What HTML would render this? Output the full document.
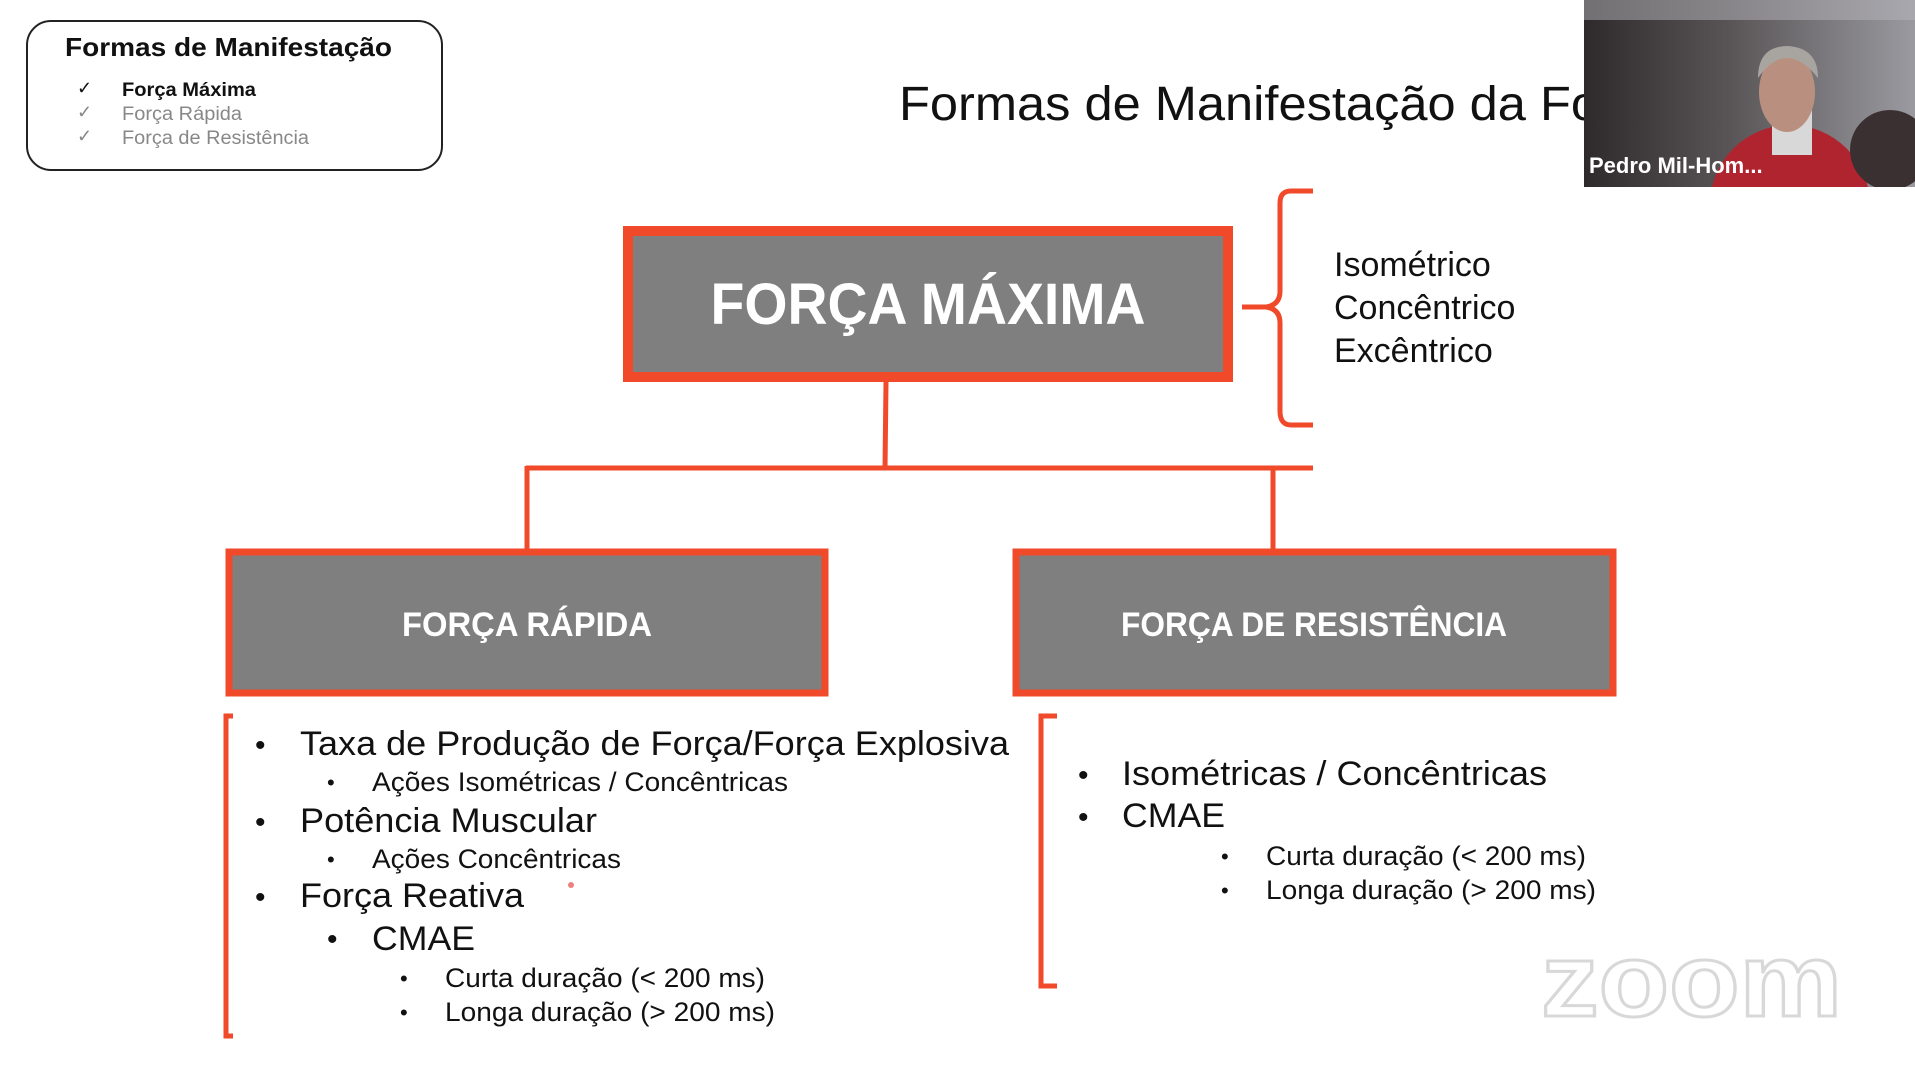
<!DOCTYPE html>
<html><head><meta charset="utf-8"><style>
html,body{margin:0;padding:0;background:#fff;width:1915px;height:1080px;overflow:hidden}
svg{display:block}
text{font-family:"Liberation Sans",sans-serif}
</style></head><body>
<svg width="1915" height="1080" viewBox="0 0 1915 1080" xmlns="http://www.w3.org/2000/svg">
<defs>
<linearGradient id="cam" x1="0" y1="0" x2="1" y2="0">
<stop offset="0" stop-color="#2e2a2c"/><stop offset="0.45" stop-color="#5a5658"/><stop offset="1" stop-color="#9a9aa0"/>
</linearGradient>
<clipPath id="cc"><rect x="1584" y="0" width="331" height="187"/></clipPath>
</defs>
<!-- legend -->
<rect x="27" y="21" width="415" height="149" rx="24" fill="#fff" stroke="#222" stroke-width="2"/>
<text x="65" y="56" font-size="26" font-weight="bold" fill="#111" textLength="327" lengthAdjust="spacingAndGlyphs">Formas de Manifestação</text>
<text x="77" y="94" font-size="18" fill="#111">✓</text>
<text x="122" y="96" font-size="19" font-weight="bold" fill="#111" textLength="134" lengthAdjust="spacingAndGlyphs">Força Máxima</text>
<text x="77" y="118" font-size="18" fill="#888">✓</text>
<text x="122" y="120" font-size="19" fill="#888" textLength="120" lengthAdjust="spacingAndGlyphs">Força Rápida</text>
<text x="77" y="142" font-size="18" fill="#888">✓</text>
<text x="122" y="144" font-size="19" fill="#888" textLength="187" lengthAdjust="spacingAndGlyphs">Força de Resistência</text>
<!-- title -->
<text x="899" y="120" font-size="48" fill="#111" textLength="700" lengthAdjust="spacingAndGlyphs">Formas de Manifestação da Fo</text>
<!-- webcam -->
<g clip-path="url(#cc)">
<rect x="1584" y="0" width="331" height="187" fill="url(#cam)"/>
<rect x="1584" y="0" width="331" height="20" fill="#b8b6bc" opacity="0.5"/>
<ellipse cx="1790" cy="205" rx="80" ry="80" fill="#b02430"/>
<ellipse cx="1890" cy="150" rx="40" ry="40" fill="#3a3032"/>
<rect x="1772" y="110" width="40" height="45" fill="#d8d8d8"/>
<ellipse cx="1787" cy="92" rx="28" ry="40" fill="#b99080"/>
<path d="M1758 78 q28 -40 60 0 q0 -30 -30 -32 q-30 0 -30 32z" fill="#a8a4a0"/>
</g>
<text x="1589" y="173" font-size="22" font-weight="bold" fill="#fff">Pedro Mil-Hom...</text>
<!-- main box -->
<rect x="628" y="231" width="600" height="146" fill="#7f7f7f" stroke="#f04a2a" stroke-width="10"/>
<text x="928" y="324" font-size="58" font-weight="bold" fill="#fff" text-anchor="middle" textLength="435" lengthAdjust="spacingAndGlyphs">FORÇA MÁXIMA</text>
<!-- connectors -->
<g stroke="#f04a2a" stroke-width="5" fill="none">
<line x1="886" y1="382" x2="885" y2="469"/>
<line x1="526" y1="468" x2="1313" y2="468"/>
<line x1="527" y1="466" x2="527" y2="550"/>
<line x1="1273" y1="466" x2="1273" y2="550"/>
<path d="M1313 191 h-22 q-11 0 -11 12 v88 q0 14 -14 16 h-24 M1266 307 q14 2 14 16 v88 q0 14 11 14 h22"/>
<path d="M233 716 h-7 v320 h7"/>
<path d="M1057 716 h-16 v270 h16"/>
</g>
<text x="1334" y="276" font-size="34" fill="#111">Isométrico</text>
<text x="1334" y="319" font-size="34" fill="#111">Concêntrico</text>
<text x="1334" y="362" font-size="34" fill="#111">Excêntrico</text>
<!-- sub boxes -->
<rect x="229" y="552" width="596" height="141" fill="#7f7f7f" stroke="#f04a2a" stroke-width="7"/>
<text x="527" y="636" font-size="34" font-weight="bold" fill="#fff" text-anchor="middle" textLength="250" lengthAdjust="spacingAndGlyphs">FORÇA RÁPIDA</text>
<rect x="1016" y="552" width="597" height="141" fill="#7f7f7f" stroke="#f04a2a" stroke-width="7"/>
<text x="1314" y="636" font-size="34" font-weight="bold" fill="#fff" text-anchor="middle" textLength="386" lengthAdjust="spacingAndGlyphs">FORÇA DE RESISTÊNCIA</text>
<!-- left bullets -->
<g fill="#111">
<text x="255" y="755" font-size="30">•</text>
<text x="300" y="755" font-size="34" textLength="709" lengthAdjust="spacingAndGlyphs">Taxa de Produção de Força/Força Explosiva</text>
<text x="327" y="790" font-size="22">•</text>
<text x="372" y="791" font-size="27" textLength="416" lengthAdjust="spacingAndGlyphs">Ações Isométricas / Concêntricas</text>
<text x="255" y="832" font-size="30">•</text>
<text x="300" y="832" font-size="34" textLength="297" lengthAdjust="spacingAndGlyphs">Potência Muscular</text>
<text x="327" y="867" font-size="22">•</text>
<text x="372" y="868" font-size="27" textLength="249" lengthAdjust="spacingAndGlyphs">Ações Concêntricas</text>
<text x="255" y="907" font-size="30">•</text>
<text x="300" y="907" font-size="34" textLength="224" lengthAdjust="spacingAndGlyphs">Força Reativa</text>
<text x="327" y="949" font-size="30">•</text>
<text x="372" y="950" font-size="34" textLength="103" lengthAdjust="spacingAndGlyphs">CMAE</text>
<text x="400" y="986" font-size="22">•</text>
<text x="445" y="987" font-size="27" textLength="320" lengthAdjust="spacingAndGlyphs">Curta duração (&lt; 200 ms)</text>
<text x="400" y="1020" font-size="22">•</text>
<text x="445" y="1021" font-size="27" textLength="330" lengthAdjust="spacingAndGlyphs">Longa duração (&gt; 200 ms)</text>
<!-- right bullets -->
<text x="1078" y="785" font-size="30">•</text>
<text x="1122" y="785" font-size="34" textLength="425" lengthAdjust="spacingAndGlyphs">Isométricas / Concêntricas</text>
<text x="1078" y="827" font-size="30">•</text>
<text x="1122" y="827" font-size="34" textLength="103" lengthAdjust="spacingAndGlyphs">CMAE</text>
<text x="1221" y="864" font-size="22">•</text>
<text x="1266" y="865" font-size="27" textLength="320" lengthAdjust="spacingAndGlyphs">Curta duração (&lt; 200 ms)</text>
<text x="1221" y="898" font-size="22">•</text>
<text x="1266" y="899" font-size="27" textLength="330" lengthAdjust="spacingAndGlyphs">Longa duração (&gt; 200 ms)</text>
</g>
<circle cx="571" cy="885" r="3" fill="#f08080"/>
<!-- zoom watermark -->
<text x="1541" y="1016" font-size="104" font-weight="bold" fill="none" stroke="#d8d8d8" stroke-width="3" textLength="301" lengthAdjust="spacingAndGlyphs">zoom</text>
</svg>
</body></html>
